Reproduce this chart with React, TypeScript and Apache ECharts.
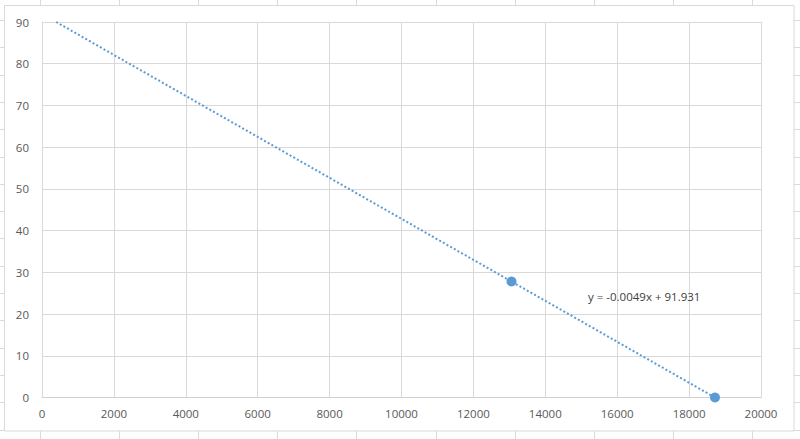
import React, { useEffect, useRef } from "react";
import * as echarts from "echarts";

const pointsX = [13060, 18720];
const pointsY = [27.8, 0];
const slope = -0.004911;
const intercept = 91.931;
const equationText = "y = -0.0049x + 91.931";
const xTicks = [0, 2000, 4000, 6000, 8000, 10000, 12000, 14000, 16000, 18000, 20000];
const yTicks = [0, 10, 20, 30, 40, 50, 60, 70, 80, 90];

const W = 800;
const H = 439;

export default function App() {
  const ref = useRef<HTMLDivElement>(null);
  useEffect(() => {
    const chart = echarts.init(ref.current!, null, { renderer: "svg" });
    const trendStartX = (90 - intercept) / slope;
    const trendEndX = pointsX[pointsX.length - 1];
    const trend = [
      [trendStartX, slope * trendStartX + intercept],
      [trendEndX, slope * trendEndX + intercept],
    ];
    const bgLines: any[] = [];
    const sheetColor = "#dadada";
    for (let i = 0; i < 10; i++) {
      const x = Math.round(40 + i * 79.1) + 0.5;
      bgLines.push({ type: "line", z: -20, silent: true, shape: { x1: x, y1: 0, x2: x, y2: H }, style: { stroke: sheetColor, lineWidth: 1 } });
    }
    for (let i = 0; i < 16; i++) {
      const y = Math.round(20 + i * 27.3) + 0.5;
      bgLines.push({ type: "line", z: -20, silent: true, shape: { x1: 0, y1: y, x2: W, y2: y }, style: { stroke: sheetColor, lineWidth: 1 } });
    }
    chart.setOption({
      animation: false,
      backgroundColor: "#ffffff",
      grid: { left: 42, right: 39, top: 22, bottom: 41.5, containLabel: false },
      xAxis: {
        type: "value",
        min: xTicks[0],
        max: xTicks[xTicks.length - 1],
        interval: 2000,
        axisLine: { show: true, lineStyle: { color: "#d0d0d0", width: 1 } },
        axisTick: { show: false },
        axisLabel: {
          color: "#595959",
          fontFamily: "Open Sans",
          fontSize: 11.5,
          margin: 10,
          formatter: (v: number) => String(v),
        },
        splitLine: { show: true, lineStyle: { color: "#d9d9d9", width: 1 } },
      },
      yAxis: {
        type: "value",
        min: yTicks[0],
        max: yTicks[yTicks.length - 1],
        interval: 10,
        axisLine: { show: true, lineStyle: { color: "#d9d9d9", width: 1 } },
        axisTick: { show: false },
        axisLabel: {
          color: "#595959",
          fontFamily: "Open Sans",
          fontSize: 11.5,
          margin: 13,
          formatter: (v: number) => String(v),
        },
        splitLine: { show: true, lineStyle: { color: "#d9d9d9", width: 1 } },
      },
      graphic: [
        ...bgLines,
        {
          type: "rect",
          z: -10,
          silent: true,
          shape: { x: 4.5, y: 5.5, width: 789.5, height: 425.5 },
          style: { fill: "#ffffff", stroke: "#d9d9d9", lineWidth: 1 },
        },
        {
          type: "text",
          z: 10,
          left: 588,
          top: 290,
          style: { text: equationText, fill: "#404040", font: "11.5px 'Open Sans'" },
        },
      ],
      series: [
        {
          type: "line",
          data: trend,
          showSymbol: false,
          symbol: "none",
          lineStyle: { color: "#5b9bd5", width: 2, type: [2, 2.2] },
          z: 2,
        },
        {
          type: "scatter",
          data: pointsX.map((x, i) => [x, pointsY[i]]),
          symbol: "circle",
          symbolSize: 10,
          itemStyle: { color: "#5b9bd5", opacity: 1 },
          z: 3,
        },
      ],
    });
    return () => chart.dispose();
  }, []);
  return <div ref={ref} style={{ position: "absolute", left: 0, top: 0, width: W, height: H }} />;
}
